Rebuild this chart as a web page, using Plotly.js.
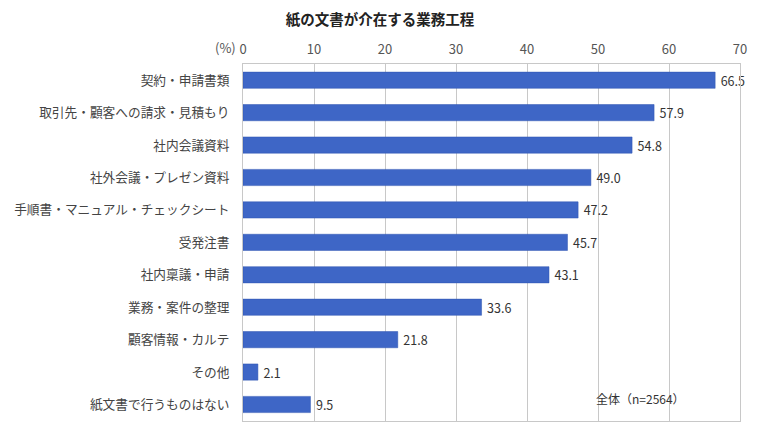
<!DOCTYPE html>
<html><head><meta charset="utf-8">
<script src="https://cdn.plot.ly/plotly-3.0.1.min.js"></script>
<style>html,body{margin:0;padding:0;background:#fff}</style>
</head><body>
<div id="chart" style="width:760px;height:439px"></div>
<script>
const categories = [
  "契約・申請書類",
  "取引先・顧客への請求・見積もり",
  "社内会議資料",
  "社外会議・プレゼン資料",
  "手順書・マニュアル・チェックシート",
  "受発注書",
  "社内稟議・申請",
  "業務・案件の整理",
  "顧客情報・カルテ",
  "その他",
  "紙文書で行うものはない"
];
const values = [66.5, 57.9, 54.8, 49.0, 47.2, 45.7, 43.1, 33.6, 21.8, 2.1, 9.5];
const tickVals = [0, 10, 20, 30, 40, 50, 60, 70];

const FONT = '"Noto Sans CJK JP", "Noto Sans", sans-serif';

const trace = {
  type: 'bar',
  orientation: 'h',
  y: categories,
  x: values,
  width: 0.5,
  marker: {color: '#3E66C6', line: {color: '#2F55B0', width: 0.5}},
  text: values.map(v => '\u2009' + v.toFixed(1)),
  textposition: 'outside',
  constraintext: 'none',
  textfont: {family: FONT, size: 12.5, color: '#333'},
  cliponaxis: false,
  hoverinfo: 'none'
};

const layout = {
  width: 760, height: 439,
  margin: {l: 243, r: 20, t: 64, b: 18},
  paper_bgcolor: '#fff', plot_bgcolor: '#fff',
  font: {family: FONT, color: '#444', size: 12},
  title: {text: '<b>紙の文書が介在する業務工程</b>', x: 0.5, xanchor: 'center', y: 0.955, yanchor: 'middle',
          font: {family: FONT, size: 14.5, color: '#222'}},
  showlegend: false,
  xaxis: {
    side: 'top', range: [0, 70], tickvals: tickVals, ticktext: tickVals.map(String),
    showgrid: true, gridcolor: '#c8c8c8', gridwidth: 1,
    zeroline: false, showline: true, linecolor: '#c8c8c8', mirror: true,
    ticks: '', tickfont: {family: FONT, size: 13, color: '#555'}, ticklabelstandoff: 4,
    fixedrange: true
  },
  yaxis: {
    autorange: 'reversed', categoryorder: 'array', categoryarray: categories,
    showline: true, linecolor: '#c8c8c8', mirror: true, showgrid: false,
    ticks: '', ticklabelstandoff: 10,
    tickfont: {family: FONT, size: 12.7, color: '#444'}, fixedrange: true
  },
  annotations: [
    {text: '(%)', xref: 'paper', yref: 'paper', x: -0.01, y: 1, xanchor: 'right', yanchor: 'bottom', yshift: 5,
     showarrow: false, font: {family: FONT, size: 13, color: '#555'}},
    {text: '全体（n=2564）', xref: 'x', yref: 'y', x: 49.5, y: categories[10], yshift: 6, xanchor: 'left', yanchor: 'middle',
     showarrow: false, font: {family: FONT, size: 12, color: '#333'}}
  ]
};

Plotly.newPlot('chart', [trace], layout, {displayModeBar: false, staticPlot: true});
</script>
</body></html>
